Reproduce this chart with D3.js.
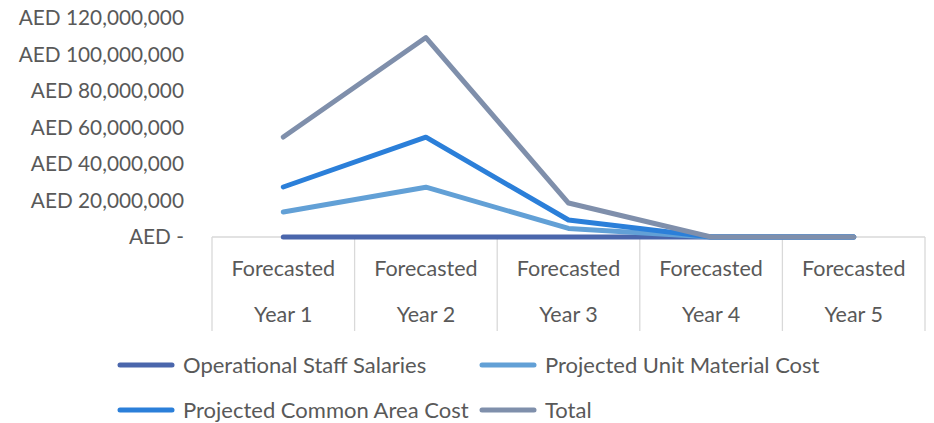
<!DOCTYPE html>
<html>
<head>
<meta charset="utf-8">
<script src="https://cdn.jsdelivr.net/npm/d3@7"></script>
<style>
  body { margin: 0; background: #fff; }
  text { font-family: Lato, "Open Sans", sans-serif; fill: #595959; }
</style>
</head>
<body>
<svg id="chart"></svg>
<script>
// data
var years = ["Forecasted Year 1", "Forecasted Year 2", "Forecasted Year 3", "Forecasted Year 4", "Forecasted Year 5"];
var staffSalaries = [0, 0, 0, 0, 0];
var unitMaterial = [13700000, 27300000, 4700000, 0, 0];
var commonArea = [27400000, 54700000, 9300000, 0, 0];
var total = [54800000, 109300000, 18600000, 0, 0];
var yTicks = [0, 20000000, 40000000, 60000000, 80000000, 100000000, 120000000];

var seriesNames = ["Operational Staff Salaries", "Projected Unit Material Cost", "Projected Common Area Cost", "Total"];
var seriesValues = [staffSalaries, unitMaterial, commonArea, total];
var colors = ["#4a66ac", "#62a0d6", "#2b7fd9", "#7f8fab"];

var W = 934, H = 423;
var svg = d3.select("#chart").attr("width", W).attr("height", H);

var x = d3.scaleBand().domain(years).range([212, 925]);
var y = d3.scaleLinear().domain([0, 120000000]).range([237, 18]);

// y labels
var fmt = d3.format(",");
svg.append("g").selectAll("text")
  .data(yTicks)
  .enter().append("text")
  .attr("x", 184)
  .attr("y", function(d) { return y(d); })
  .attr("dy", "0.35em")
  .attr("text-anchor", "end")
  .style("font-size", "20.8px")
  .text(function(d) { return d === 0 ? "AED -" : "AED " + fmt(d); });

// x axis line + category dividers
var axis = svg.append("g");
axis.append("line")
  .attr("x1", 212).attr("x2", 925)
  .attr("y1", y(0)).attr("y2", y(0))
  .attr("stroke", "#d9d9d9").attr("stroke-width", 1.3);
var edges = years.map(function(d) { return x(d); }).concat([x.range()[1]]);
axis.selectAll("line.div")
  .data(edges)
  .enter().append("line")
  .attr("class", "div")
  .attr("x1", function(d) { return d; }).attr("x2", function(d) { return d; })
  .attr("y1", y(0)).attr("y2", 331)
  .attr("stroke", "#d9d9d9").attr("stroke-width", 1.3);

var cat = axis.selectAll("g.cat")
  .data(years)
  .enter().append("g")
  .attr("class", "cat")
  .attr("transform", function(d) { return "translate(" + (x(d) + x.bandwidth() / 2) + ",0)"; });
cat.append("text")
  .attr("y", 276)
  .attr("text-anchor", "middle")
  .style("font-size", "21.5px")
  .text(function(d) { return d.split(" ")[0]; });
cat.append("text")
  .attr("y", 322)
  .attr("text-anchor", "middle")
  .style("font-size", "21.5px")
  .text(function(d) { return d.split(" ").slice(1).join(" "); });

// lines
var line = d3.line()
  .x(function(d, i) { return x(years[i]) + x.bandwidth() / 2; })
  .y(function(d) { return y(d); });

svg.append("g").selectAll("path")
  .data(seriesValues)
  .enter().append("path")
  .attr("d", line)
  .attr("fill", "none")
  .attr("stroke", function(d, i) { return colors[i]; })
  .attr("stroke-width", 5)
  .attr("stroke-linecap", "round")
  .attr("stroke-linejoin", "round");

// legend
var legendPos = [[118, 365], [480, 365], [118, 410], [480, 410]];
var legend = svg.append("g").selectAll("g")
  .data(seriesNames)
  .enter().append("g")
  .attr("transform", function(d, i) { return "translate(" + legendPos[i][0] + "," + legendPos[i][1] + ")"; });
legend.append("line")
  .attr("x1", 2).attr("x2", 54)
  .attr("stroke", function(d, i) { return colors[i]; })
  .attr("stroke-width", 5)
  .attr("stroke-linecap", "round");
legend.append("text")
  .attr("x", 65)
  .attr("dy", "0.35em")
  .style("font-size", "22px")
  .text(function(d) { return d; });
</script>
</body>
</html>
